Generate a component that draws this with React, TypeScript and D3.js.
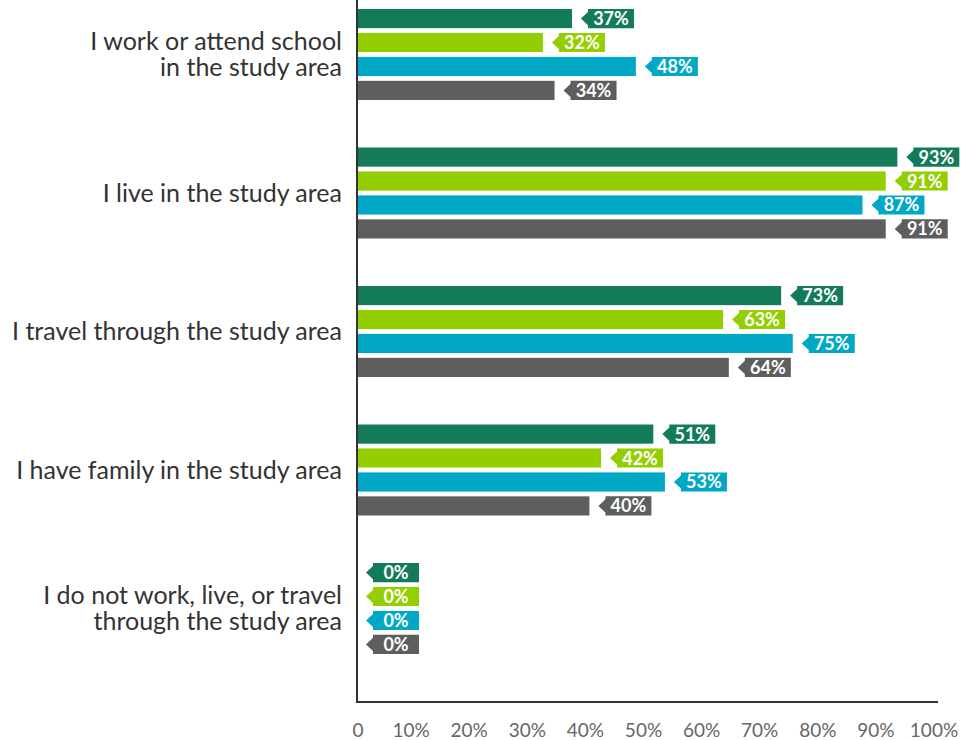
import React from "react";
import * as d3 from "d3";

const categories: string[][] = [
  ["I work or attend school", "in the study area"],
  ["I live in the study area"],
  ["I travel through the study area"],
  ["I have family in the study area"],
  ["I do not work, live, or travel", "through the study area"],
];
const seriesNames = ["s1", "s2", "s3", "s4"];
const seriesColors = ["#137a5a", "#93cf00", "#00a8c6", "#5e5e5e"];
const values: number[][] = [
  [37, 32, 48, 34],
  [93, 91, 87, 91],
  [73, 63, 75, 64],
  [51, 42, 53, 40],
  [0, 0, 0, 0],
];
const ticks = [0, 10, 20, 30, 40, 50, 60, 70, 80, 90, 100];

export default function App() {
  const W = 967, H = 740;
  const x = d3.scaleLinear().domain([0, 100]).range([357, 938]);
  const y0 = d3.scaleBand<number>().domain(categories.map((_, i) => i)).range([9, 654]).paddingInner(0.343).paddingOuter(0);
  const y1 = d3.scaleBand<string>().domain(seriesNames).range([0, y0.bandwidth()]).paddingInner(0.2).paddingOuter(0);
  const bh = y1.bandwidth();
  const font = "Lato, 'Open Sans', sans-serif";

  const tag = (v: number, top: number) => {
    const x0 = x(v) + 9;
    const x1 = x0 + 53;
    const n = 7;
    const bot = top + bh;
    const mid = top + bh / 2;
    return `M${x0 + n},${top} L${x1},${top} L${x1},${bot} L${x0 + n},${bot} L${x0 + n},${bot - 3} L${x0},${mid} L${x0 + n},${top + 3} Z`;
  };

  return (
    <svg width={W} height={H} style={{ position: "absolute", left: 0, top: 0, background: "#fff" }} fontFamily={font}>
      {values.map((row, gi) => {
        const gy = y0(gi)!;
        const lines = categories[gi];
        const cy = gy + y0.bandwidth() / 2;
        const lh = 26;
        return (
          <g key={gi}>
            {lines.map((l, li) => (
              <text key={li} x={342} y={cy + (li - (lines.length - 1) / 2) * lh} dy="0.35em" textAnchor="end" fontSize={25} fill="#333">
                {l}
              </text>
            ))}
            {row.map((v, si) => {
              const by = gy + y1(seriesNames[si])!;
              return (
                <g key={si}>
                  <rect x={x(0)} y={by} width={x(v) - x(0)} height={bh} fill={seriesColors[si]} />
                  <path d={tag(v, by)} fill={seriesColors[si]} />
                  <text x={x(v) + 9 + 7 + 23} y={by + bh / 2} dy="0.36em" textAnchor="middle" fontSize={18} fontWeight={700} fill="#fff">
                    {v}%
                  </text>
                </g>
              );
            })}
          </g>
        );
      })}
      <line x1={x(0)} x2={x(0)} y1={0} y2={703} stroke="#333" strokeWidth={2} />
      <line x1={x(0)} x2={x(100)} y1={702} y2={702} stroke="#333" strokeWidth={2} />
      {ticks.map((t) => (
        <text key={t} x={t === 0 ? x(0) + 1 : x(t) - 4} y={730} dy="0.35em" textAnchor="middle" fontSize={19} fill="#666">
          {t === 0 ? "0" : `${t}%`}
        </text>
      ))}
    </svg>
  );
}
